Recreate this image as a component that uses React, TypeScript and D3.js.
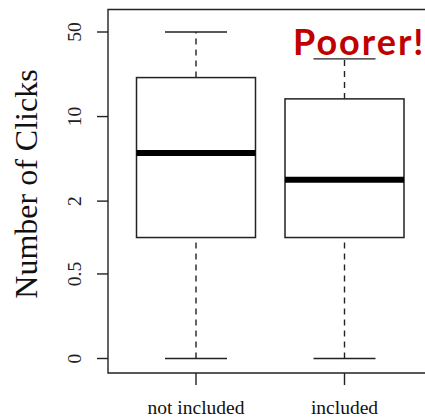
import * as d3 from 'd3';

// boxplot stats (0 is drawn at the log floor)
const categories = ['not included', 'included'];
const whiskerLow = [0, 0];
const q1 = [1, 1];
const median = [5, 3];
const q3 = [21, 14];
const whiskerHigh = [50, 30];

const tickValues = [0, 0.5, 2, 10, 50];
const tickLabels = ['0', '0.5', '2', '10', '50'];

const W = 425;
const H = 418;
const FLOOR = 0.1; // where zero sits on the log axis

const PLOT_LEFT = 108;
const PLOT_TOP = 9.5;
const PLOT_BOTTOM = 373;
const BOX_HALF = 59.5;
const CAP_HALF = 31;
const INK = '#222';

export default function App() {
  const y = d3.scaleLog().domain([FLOOR, 50]).range([358.5, 32]);
  const yv = (v: number) => y(Math.max(v, FLOOR));
  const x = d3.scalePoint<string>().domain(categories).range([196, 344.5]);

  return (
    <svg
      width={W}
      height={H}
      style={{ position: 'absolute', left: 0, top: 0, background: '#fff' }}
    >
      <rect width={W} height={H} fill="#fff" />

      {/* frame (right side runs off the crop) */}
      <path
        d={`M${W + 5},${PLOT_TOP}H${PLOT_LEFT}V${PLOT_BOTTOM}H${W + 5}`}
        fill="none"
        stroke={INK}
        strokeWidth={1.4}
      />

      {/* y axis ticks */}
      {tickValues.map((v, i) => (
        <g key={i}>
          <line x1={97} x2={PLOT_LEFT} y1={yv(v)} y2={yv(v)} stroke={INK} strokeWidth={1.4} />
          <text
            transform={`translate(81,${yv(v)}) rotate(-90)`}
            textAnchor="middle"
            fontFamily="'Liberation Serif', 'Times New Roman', serif"
            fontSize={19.5}
            fill="#222"
          >
            {tickLabels[i]}
          </text>
        </g>
      ))}

      <text
        transform="translate(37,184) rotate(-90)"
        textAnchor="middle"
        fontFamily="'Liberation Serif', 'Times New Roman', serif"
        fontSize={32}
        fill="#111"
      >
        Number of Clicks
      </text>

      {/* x axis ticks */}
      {categories.map((c) => (
        <g key={c}>
          <line x1={x(c)} x2={x(c)} y1={PLOT_BOTTOM} y2={385} stroke={INK} strokeWidth={1.4} />
          <text
            x={x(c)}
            y={414}
            textAnchor="middle"
            fontFamily="'Liberation Serif', 'Times New Roman', serif"
            fontSize={19.5}
            fill="#111"
          >
            {c}
          </text>
        </g>
      ))}

      {/* boxes */}
      {categories.map((c, i) => {
        const cx = x(c) as number;
        return (
          <g key={c}>
            <line x1={cx} x2={cx} y1={yv(whiskerLow[i])} y2={yv(q1[i])} stroke={INK} strokeWidth={1.4} strokeDasharray="6,5" />
            <line x1={cx} x2={cx} y1={yv(q3[i])} y2={yv(whiskerHigh[i])} stroke={INK} strokeWidth={1.4} strokeDasharray="6,5" />
            <line x1={cx - CAP_HALF} x2={cx + CAP_HALF} y1={yv(whiskerLow[i])} y2={yv(whiskerLow[i])} stroke={INK} strokeWidth={1.4} />
            <line x1={cx - CAP_HALF} x2={cx + CAP_HALF} y1={yv(whiskerHigh[i])} y2={yv(whiskerHigh[i])} stroke={INK} strokeWidth={1.4} />
            <rect
              x={cx - BOX_HALF}
              y={yv(q3[i])}
              width={BOX_HALF * 2}
              height={yv(q1[i]) - yv(q3[i])}
              fill="#fff"
              stroke={INK}
              strokeWidth={1.5}
            />
            <line x1={cx - BOX_HALF} x2={cx + BOX_HALF} y1={yv(median[i])} y2={yv(median[i])} stroke="#000" strokeWidth={6} />
          </g>
        );
      })}

      <text
        x={293}
        y={55}
        fontFamily="Lato, 'Open Sans', sans-serif"
        fontWeight={700}
        fontSize={36}
        letterSpacing={2}
        fill="#c00000"
      >
        Poorer!
      </text>
    </svg>
  );
}
